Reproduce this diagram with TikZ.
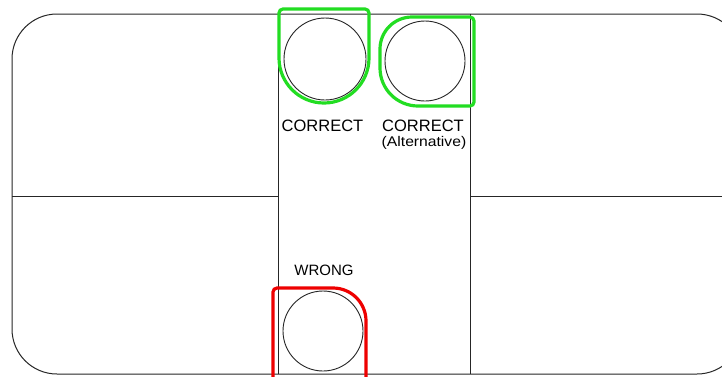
\documentclass[tikz,border=0pt]{standalone}
\usepackage{fontspec}
\setmainfont{Liberation Sans}
\newfontfamily\altwide[FakeStretch=1.12]{Liberation Sans}
\definecolor{okgreen}{RGB}{34,221,34}
\definecolor{badred}{RGB}{238,0,0}
\begin{document}
\begin{tikzpicture}[x=1pt,y=-1pt,
  outline/.style={draw=black!85,line width=1pt},
  ball/.style={circle,draw=black!85,line width=0.9pt,inner sep=0pt},
  okmark/.style={draw=okgreen,line width=3.2pt},
  badmark/.style={draw=badred,line width=3.2pt},
  caption/.style={anchor=base,inner sep=0pt,font=\fontsize{16.5}{18}\selectfont},
  wrongcap/.style={anchor=base,inner sep=0pt,font=\fontsize{15}{17}\selectfont},
  smallcap/.style={anchor=base,inner sep=0pt,font=\altwide\fontsize{14}{16}\selectfont}]
\useasboundingbox (0,0) rectangle (722,376);
\clip (0,0) rectangle (722,376);
\fill[white] (0,0) rectangle (722,376);
% outer rounded field
\draw[outline,rounded corners=45pt] (12,14) rectangle (742,374);
% lane lines
\coordinate (v1t) at (278,14); \coordinate (v1b) at (278,374);
\coordinate (v2t) at (470,14); \coordinate (v2b) at (470,374);
\coordinate (hl) at (12,196); \coordinate (hm1) at (278,196);
\coordinate (hm2) at (470,196); \coordinate (hr) at (742,196);
\draw[outline] (v1t) -- (v1b);
\draw[outline] (v2t) -- (v2b);
\draw[outline] (hl) -- (hm1);
\draw[outline] (hm2) -- (hr);
% circles
\node[ball,minimum size=82pt] (c1) at (325,59) {};
\node[ball,minimum size=80pt] (c2) at (425,61) {};
\node[ball,minimum size=80pt] (c3) at (323,331) {};
% green mark 1
\draw[okmark] (279,58) -- (279,13) arc(180:270:4) -- (365,9) arc(270:360:4) -- (369,58) arc(0:180:45) -- cycle;
% green mark 2
\draw[okmark] (412,17) arc(270:180:32) -- (380,68) arc(180:90:38) -- (470,106) arc(90:0:4) -- (474,21) arc(0:-90:4) -- cycle;
% red mark
\draw[badmark] (273,392) -- (273,292) arc(180:270:4) -- (333,288) arc(270:360:33) -- (366,392);
% labels
\node[caption] (t1) at (322.5,131) {CORRECT};
\node[caption] (t2) at (423,131) {CORRECT};
\node[smallcap] (t3) at (424,146.5) {(Alternative)};
\node[wrongcap] (t4) at (324,275) {WRONG};
\end{tikzpicture}
\end{document}
